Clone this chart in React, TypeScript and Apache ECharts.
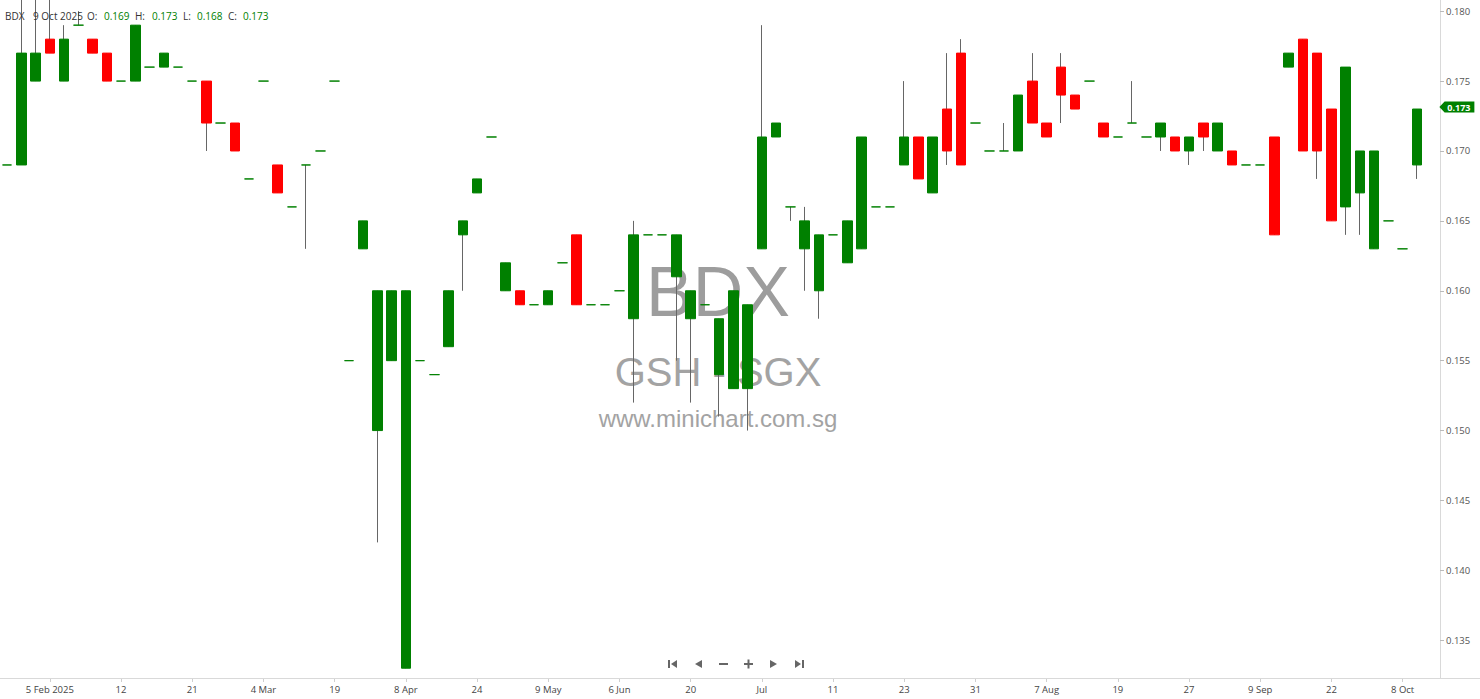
import React, { useEffect, useRef } from 'react';
import * as echarts from 'echarts';

// ---------- data ----------
const dates = [
  '2025-01-21', '2025-01-23', '2025-02-03', '2025-02-05', '2025-02-06', '2025-02-07', '2025-02-10', '2025-02-11', '2025-02-12', '2025-02-13',
  '2025-02-14', '2025-02-18', '2025-02-19', '2025-02-21', '2025-02-24', '2025-02-26', '2025-02-27', '2025-03-03', '2025-03-04', '2025-03-06',
  '2025-03-10', '2025-03-12', '2025-03-17', '2025-03-19', '2025-03-25', '2025-03-28', '2025-04-03', '2025-04-07', '2025-04-08', '2025-04-11',
  '2025-04-15', '2025-04-17', '2025-04-22', '2025-04-24', '2025-04-28', '2025-04-30', '2025-05-05', '2025-05-07', '2025-05-09', '2025-05-14',
  '2025-05-20', '2025-05-23', '2025-05-29', '2025-06-06', '2025-06-10', '2025-06-12', '2025-06-16', '2025-06-18', '2025-06-20', '2025-06-23',
  '2025-06-24', '2025-06-26', '2025-06-30', '2025-07-01', '2025-07-02', '2025-07-04', '2025-07-08', '2025-07-10', '2025-07-11', '2025-07-14',
  '2025-07-15', '2025-07-17', '2025-07-21', '2025-07-23', '2025-07-24', '2025-07-25', '2025-07-28', '2025-07-29', '2025-07-31', '2025-08-01',
  '2025-08-04', '2025-08-05', '2025-08-06', '2025-08-07', '2025-08-08', '2025-08-12', '2025-08-14', '2025-08-18', '2025-08-19', '2025-08-20',
  '2025-08-21', '2025-08-22', '2025-08-25', '2025-08-27', '2025-08-28', '2025-09-01', '2025-09-03', '2025-09-05', '2025-09-09', '2025-09-11',
  '2025-09-15', '2025-09-17', '2025-09-19', '2025-09-22', '2025-09-24', '2025-09-26', '2025-09-30', '2025-10-03', '2025-10-08', '2025-10-09',
];

const opens = [
  0.169, 0.169, 0.175, 0.178, 0.175, 0.179, 0.178, 0.177, 0.175, 0.175,
  0.176, 0.176, 0.176, 0.175, 0.175, 0.172, 0.172, 0.168, 0.175, 0.169,
  0.166, 0.169, 0.170, 0.175, 0.155, 0.163, 0.150, 0.155, 0.133, 0.155,
  0.154, 0.156, 0.164, 0.167, 0.171, 0.160, 0.160, 0.159, 0.159, 0.162,
  0.164, 0.159, 0.159, 0.160, 0.158, 0.164, 0.164, 0.161, 0.158, 0.159,
  0.154, 0.153, 0.153, 0.163, 0.171, 0.166, 0.163, 0.160, 0.164, 0.162,
  0.163, 0.166, 0.166, 0.169, 0.171, 0.167, 0.173, 0.177, 0.172, 0.170,
  0.170, 0.170, 0.175, 0.172, 0.176, 0.174, 0.175, 0.172, 0.171, 0.172,
  0.171, 0.171, 0.171, 0.170, 0.172, 0.170, 0.170, 0.169, 0.169, 0.171,
  0.176, 0.178, 0.177, 0.173, 0.166, 0.167, 0.163, 0.165, 0.163, 0.169,
];

const closes = [
  0.169, 0.177, 0.177, 0.177, 0.178, 0.179, 0.177, 0.175, 0.175, 0.179,
  0.176, 0.177, 0.176, 0.175, 0.172, 0.172, 0.170, 0.168, 0.175, 0.167,
  0.166, 0.169, 0.170, 0.175, 0.155, 0.165, 0.160, 0.160, 0.160, 0.155,
  0.154, 0.160, 0.165, 0.168, 0.171, 0.162, 0.159, 0.159, 0.160, 0.162,
  0.159, 0.159, 0.159, 0.160, 0.164, 0.164, 0.164, 0.164, 0.160, 0.159,
  0.158, 0.160, 0.159, 0.171, 0.172, 0.166, 0.165, 0.164, 0.164, 0.165,
  0.171, 0.166, 0.166, 0.171, 0.168, 0.171, 0.170, 0.169, 0.172, 0.170,
  0.170, 0.174, 0.172, 0.171, 0.174, 0.173, 0.175, 0.171, 0.171, 0.172,
  0.171, 0.172, 0.170, 0.171, 0.171, 0.172, 0.169, 0.169, 0.169, 0.164,
  0.177, 0.170, 0.170, 0.165, 0.176, 0.170, 0.170, 0.165, 0.163, 0.173,
];

const lows = [
  0.169, 0.169, 0.175, 0.177, 0.175, 0.179, 0.177, 0.175, 0.175, 0.175,
  0.176, 0.176, 0.176, 0.175, 0.170, 0.172, 0.170, 0.168, 0.175, 0.167,
  0.166, 0.163, 0.170, 0.175, 0.155, 0.163, 0.142, 0.155, 0.133, 0.155,
  0.154, 0.156, 0.160, 0.167, 0.171, 0.160, 0.159, 0.159, 0.159, 0.162,
  0.159, 0.159, 0.159, 0.160, 0.152, 0.164, 0.164, 0.155, 0.152, 0.159,
  0.151, 0.153, 0.150, 0.163, 0.171, 0.165, 0.160, 0.158, 0.164, 0.162,
  0.163, 0.166, 0.166, 0.169, 0.168, 0.167, 0.169, 0.169, 0.172, 0.170,
  0.170, 0.170, 0.172, 0.171, 0.172, 0.173, 0.175, 0.171, 0.171, 0.172,
  0.171, 0.170, 0.170, 0.169, 0.170, 0.170, 0.169, 0.169, 0.169, 0.164,
  0.176, 0.170, 0.168, 0.165, 0.164, 0.164, 0.163, 0.165, 0.163, 0.168,
];

const highs = [
  0.169, 0.181, 0.181, 0.181, 0.179, 0.180, 0.178, 0.177, 0.175, 0.179,
  0.176, 0.177, 0.176, 0.175, 0.175, 0.172, 0.172, 0.168, 0.175, 0.169,
  0.166, 0.169, 0.170, 0.175, 0.155, 0.165, 0.160, 0.160, 0.160, 0.155,
  0.154, 0.160, 0.165, 0.168, 0.171, 0.162, 0.160, 0.159, 0.160, 0.162,
  0.164, 0.159, 0.159, 0.160, 0.165, 0.164, 0.164, 0.164, 0.160, 0.159,
  0.158, 0.160, 0.159, 0.179, 0.172, 0.166, 0.166, 0.164, 0.164, 0.165,
  0.171, 0.166, 0.166, 0.175, 0.171, 0.171, 0.177, 0.178, 0.172, 0.170,
  0.172, 0.174, 0.177, 0.172, 0.177, 0.174, 0.175, 0.172, 0.171, 0.175,
  0.171, 0.172, 0.171, 0.171, 0.172, 0.172, 0.170, 0.169, 0.169, 0.171,
  0.177, 0.178, 0.177, 0.173, 0.176, 0.170, 0.170, 0.165, 0.163, 0.173,
];

const yTickValues = [0.135, 0.14, 0.145, 0.15, 0.155, 0.16, 0.165, 0.17, 0.175, 0.18];

const ticker = 'BDX';
const exchangeText = 'GSH - SGX';
const siteText = 'www.minichart.com.sg';
const MONTHS = ['Jan', 'Feb', 'Mar', 'Apr', 'May', 'Jun', 'Jul', 'Aug', 'Sep', 'Oct', 'Nov', 'Dec'];

// ---------- helpers ----------
const UP = '#008000';
const DOWN = '#ff0000';
const WICK = '#666666';
const LABEL_STEP = 5;
const LABEL_OFFSET = (dates.length - 2) % LABEL_STEP;

function parseDate(s: string) {
  const [y, m, d] = s.split('-').map(Number);
  return { y, m: m - 1, d };
}

function showLabel(i: number) {
  return i >= LABEL_OFFSET && (i - LABEL_OFFSET) % LABEL_STEP === 0;
}

function labelFor(i: number): string {
  const cur = parseDate(dates[i]);
  if (i === LABEL_OFFSET) return `${cur.d} ${MONTHS[cur.m]} ${cur.y}`;
  const prev = parseDate(dates[i - LABEL_STEP]);
  if (prev.m !== cur.m) return cur.d === 1 ? MONTHS[cur.m] : `${cur.d} ${MONTHS[cur.m]}`;
  return `${cur.d}`;
}

export default function App() {
  const ref = useRef<HTMLDivElement>(null);

  useEffect(() => {
    if (!ref.current) return;
    const chart = echarts.init(ref.current, undefined, { renderer: 'svg' });

    const n = dates.length;
    const last = n - 1;

    const wickData = dates.map((_, i) => [opens[i], closes[i], lows[i], highs[i]]);
    const bodyData = dates.map((_, i) => {
      const o = opens[i];
      const c = closes[i];
      const item: any = { value: [o, c, Math.min(o, c), Math.max(o, c)] };
      if (o === c) {
        item.itemStyle = { color: UP, color0: UP, borderColor: UP, borderColor0: UP };
      }
      return item;
    });

    const lastDate = parseDate(dates[last]);
    const headerFont = '10px "Open Sans", sans-serif';
    const headerItems: Array<[string, number, string]> = [
      [ticker, 5, '#333'],
      [`${lastDate.d} ${MONTHS[lastDate.m]} ${lastDate.y}`, 33, '#333'],
      ['O:', 87, '#333'],
      [opens[last].toFixed(3), 104, UP],
      ['H:', 135, '#333'],
      [highs[last].toFixed(3), 152, UP],
      ['L:', 183, '#333'],
      [lows[last].toFixed(3), 197, UP],
      ['C:', 228, '#333'],
      [closes[last].toFixed(3), 243, UP],
    ];

    const navColor = '#666';
    const navY = 664;
    const graphics: any[] = [
      // watermark
      {
        type: 'text', x: 718, y: 292, z: -10,
        style: { text: ticker, font: '70px "Liberation Sans", Arial, sans-serif', fill: '#9d9d9d', textAlign: 'center', textVerticalAlign: 'middle' },
      },
      {
        type: 'text', x: 718, y: 372, z: -10,
        style: { text: exchangeText, font: '40px "Liberation Sans", Arial, sans-serif', fill: '#a3a3a3', textAlign: 'center', textVerticalAlign: 'middle' },
      },
      {
        type: 'text', x: 718, y: 418, z: -10,
        style: { text: siteText, font: '24px "Liberation Sans", Arial, sans-serif', fill: '#a3a3a3', textAlign: 'center', textVerticalAlign: 'middle' },
      },
      // bottom axis line spanning full width
      {
        type: 'line', z: 5,
        shape: { x1: 0, y1: 678.5, x2: 1480, y2: 678.5 },
        style: { stroke: '#d9d9d9', lineWidth: 1 },
      },
      // header
      ...headerItems.map(([t, x, c]) => ({
        type: 'text', x, y: 15.5, z: 100,
        style: { text: t, font: headerFont, fill: c, textAlign: 'left', textVerticalAlign: 'middle' },
      })),
      // navigation icons
      { type: 'rect', z: 100, shape: { x: 668, y: navY - 4, width: 2, height: 8 }, style: { fill: navColor } },
      { type: 'polygon', z: 100, shape: { points: [[677, navY - 4], [677, navY + 4], [671, navY]] }, style: { fill: navColor } },
      { type: 'polygon', z: 100, shape: { points: [[702, navY - 4], [702, navY + 4], [695, navY]] }, style: { fill: navColor } },
      { type: 'rect', z: 100, shape: { x: 719, y: navY - 1, width: 9, height: 2 }, style: { fill: navColor } },
      { type: 'rect', z: 100, shape: { x: 744, y: navY - 1, width: 9, height: 2 }, style: { fill: navColor } },
      { type: 'rect', z: 100, shape: { x: 747.5, y: navY - 4.5, width: 2, height: 9 }, style: { fill: navColor } },
      { type: 'polygon', z: 100, shape: { points: [[770, navY - 4], [770, navY + 4], [777, navY]] }, style: { fill: navColor } },
      { type: 'polygon', z: 100, shape: { points: [[795, navY - 4], [795, navY + 4], [801, navY]] }, style: { fill: navColor } },
      { type: 'rect', z: 100, shape: { x: 802, y: navY - 4, width: 2, height: 8 }, style: { fill: navColor } },
    ];

    const option: any = {
      animation: false,
      backgroundColor: '#ffffff',
      grid: { left: 0, right: 56, top: 0, bottom: 21, containLabel: false },
      xAxis: {
        type: 'category',
        data: dates,
        boundaryGap: true,
        axisLine: { show: false },
        axisTick: {
          show: true,
          alignWithLabel: true,
          interval: (i: number) => showLabel(i),
          length: 4,
          lineStyle: { color: '#cfcfcf' },
        },
        axisLabel: {
          interval: (i: number) => showLabel(i),
          formatter: (_v: string, i: number) => labelFor(i),
          color: '#444',
          fontSize: 9.5,
          fontFamily: '"Open Sans", sans-serif',
          margin: 6,
        },
        splitLine: { show: false },
      },
      yAxis: {
        type: 'value',
        position: 'right',
        offset: 16,
        min: 0.1323,
        max: 0.1808,
        axisLine: { show: true, lineStyle: { color: '#d9d9d9' } },
        axisTick: { show: true, length: 4, customValues: yTickValues, lineStyle: { color: '#bbb' } },
        axisLabel: {
          customValues: yTickValues,
          formatter: (v: number) => v.toFixed(3),
          color: '#555',
          fontSize: 9.5,
          fontFamily: '"Open Sans", sans-serif',
          margin: 6,
        },
        splitLine: { show: false },
      },
      graphic: graphics,
      series: [
        {
          name: 'wick',
          type: 'candlestick',
          data: wickData,
          barWidth: 1,
          clip: true,
          silent: true,
          itemStyle: { color: WICK, color0: WICK, borderColor: WICK, borderColor0: WICK, borderWidth: 1 },
        },
        {
          name: 'body',
          type: 'candlestick',
          data: bodyData,
          barWidth: 10,
          clip: false,
          silent: true,
          itemStyle: { color: UP, color0: DOWN, borderColor: UP, borderColor0: DOWN, borderWidth: 1 },
          markPoint: {
            silent: true,
            symbol: 'path://M0,6 L6,0 L40,0 L40,12 L6,12 Z',
            symbolSize: [35, 11],
            symbolOffset: [40, -2],
            itemStyle: { color: UP },
            label: {
              show: true,
              position: 'inside',
              offset: [2, 0],
              color: '#fff',
              fontWeight: 'bold',
              fontSize: 9,
              fontFamily: '"Open Sans", sans-serif',
              formatter: () => closes[last].toFixed(3),
            },
            data: [{ coord: [last, closes[last]], value: closes[last] }],
          },
        },
      ],
    };

    chart.setOption(option);
    return () => chart.dispose();
  }, []);

  return (
    <div
      ref={ref}
      style={{ position: 'absolute', left: 0, top: 0, width: 1480, height: 699, background: '#fff' }}
    />
  );
}
